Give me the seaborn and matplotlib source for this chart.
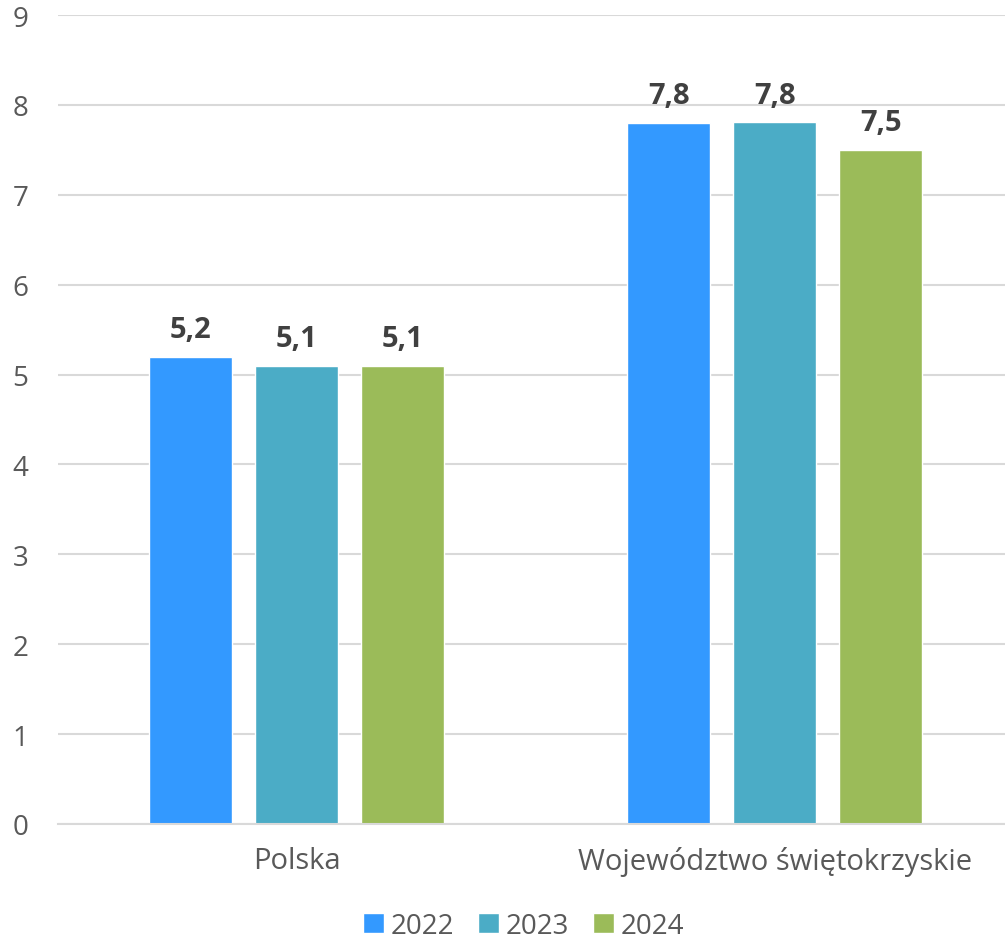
import matplotlib
matplotlib.use("Agg")
import matplotlib.pyplot as plt
import seaborn as sns
import pandas as pd
from matplotlib.patches import Patch

categories = ["Polska", "Województwo świętokrzyskie"]
years = ["2022", "2023", "2024"]
values_2022 = [5.2, 7.8]
values_2023 = [5.1, 7.81]
values_2024 = [5.1, 7.5]
labels_2022 = ["5,2", "7,8"]
labels_2023 = ["5,1", "7,8"]
labels_2024 = ["5,1", "7,5"]
colors = ["#3399FF", "#4BACC6", "#9BBB59"]

rows = []
for yr, vals in zip(years, [values_2022, values_2023, values_2024]):
    for c, v in zip(categories, vals):
        rows.append({"cat": c, "year": yr, "value": v})
df = pd.DataFrame(rows)

sns.set_theme(style="white")
plt.rcParams['font.family'] = ['Open Sans', 'DejaVu Sans']

fig = plt.figure(figsize=(10.05, 9.45), dpi=100)
ax = fig.add_axes([0.058, 0.127, 0.942, 0.856])
sns.barplot(data=df, x="cat", y="value", hue="year", order=categories, hue_order=years,
            palette=colors, width=0.665, gap=0.217, ax=ax, legend=False, saturation=1)

ax.set_ylim(0, 9)
ax.set_xlim(-0.499, 1.482)
ax.set_yticks(range(0, 10))
ax.yaxis.grid(True, color="#d9d9d9", linewidth=1.5)
ax.set_axisbelow(True)
for s in ["top", "right", "left"]:
    ax.spines[s].set_visible(False)
ax.spines["bottom"].set_color("#d9d9d9")
ax.spines["bottom"].set_linewidth(1.5)
ax.tick_params(axis="both", length=0, colors="#595959")
ax.tick_params(axis="y", labelsize=20, pad=33)
ax.tick_params(axis="x", labelsize=21, pad=16)
for t in ax.get_yticklabels():
    t.set_horizontalalignment("left")
ax.set_xlabel("")
ax.set_ylabel("")

for cont, labs in zip(ax.containers, [labels_2022, labels_2023, labels_2024]):
    ax.bar_label(cont, labels=labs, padding=9, fontsize=21, fontweight="bold", color="#404040")

handles = [Patch(facecolor=c, label=y) for c, y in zip(colors, years)]
fig.legend(handles=handles, loc="lower center", ncol=3, frameon=False, fontsize=20,
           bbox_to_anchor=(0.521, -0.022), handlelength=0.75, handleheight=0.75,
           handletextpad=0.25, columnspacing=0.85, labelcolor="#595959")

fig.savefig("out.png", dpi=100)
